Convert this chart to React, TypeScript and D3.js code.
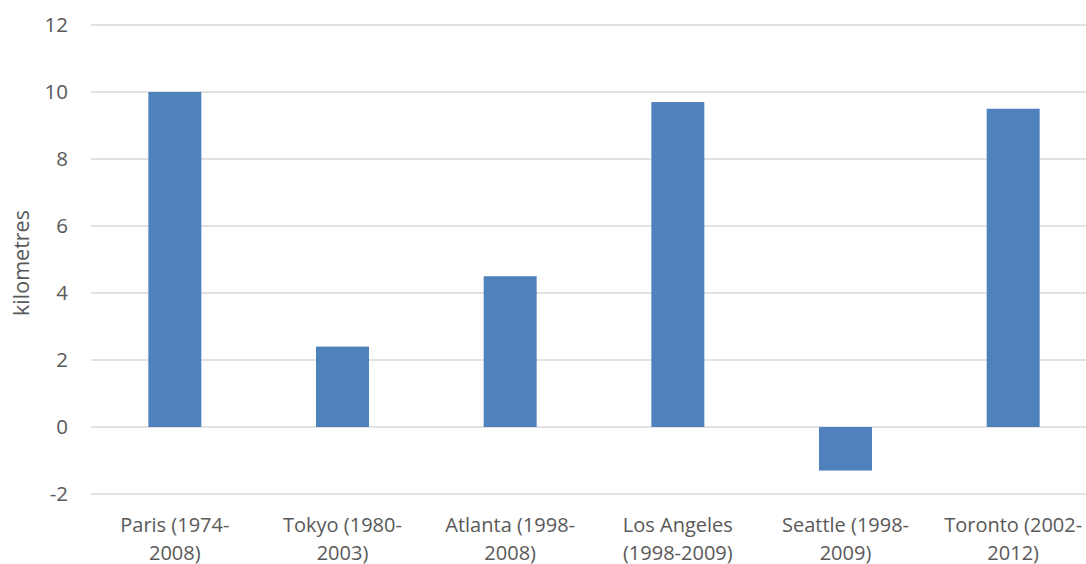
import React from "react";
import * as d3 from "d3";

const categories = ["Paris (1974-2008)", "Tokyo (1980-2003)", "Atlanta (1998-2008)", "Los Angeles (1998-2009)", "Seattle (1998-2009)", "Toronto (2002-2012)"];
const labelLines = [
  ["Paris (1974-", "2008)"],
  ["Tokyo (1980-", "2003)"],
  ["Atlanta (1998-", "2008)"],
  ["Los Angeles", "(1998-2009)"],
  ["Seattle (1998-", "2009)"],
  ["Toronto (2002-", "2012)"],
];
const values = [10, 2.4, 4.5, 9.7, -1.3, 9.5];
const yTicks = [-2, 0, 2, 4, 6, 8, 10, 12];
const yTitle = "kilometres";

const W = 1086;
const H = 564;
const FONT = "'Open Sans', 'Noto Sans', sans-serif";
const TEXT = "#595959";

export default function App() {
  const x = d3.scaleBand<string>().domain(categories).range([91, 1097]).paddingInner(0.684).paddingOuter(0.342);
  const y = d3.scaleLinear().domain([-2, 12]).range([494, 25]);

  return (
    <div style={{ position: "absolute", left: 0, top: 0 }}>
      <svg width={W} height={H} style={{ display: "block", background: "#fff" }}>
        {yTicks.map((t) => (
          <g key={t}>
            <line x1={91} x2={W} y1={y(t)} y2={y(t)} stroke="#D9D9D9" strokeWidth={1.5} />
            <text x={68} y={y(t)} dy="0.35em" textAnchor="end" fontFamily={FONT} fontSize={20.5} fill={TEXT}>
              {String(t)}
            </text>
          </g>
        ))}
        {categories.map((c, i) => {
          const v = values[i];
          const y0 = y(0);
          const yv = y(v);
          return (
            <rect key={c} x={x(c)!} width={x.bandwidth()} y={Math.min(y0, yv)} height={Math.abs(yv - y0)} fill="#4F81BD" />
          );
        })}
        {categories.map((c, i) => {
          const cx = x(c)! + x.bandwidth() / 2;
          return (
            <text key={c} textAnchor="middle" fontFamily={FONT} fontSize={20} fill={TEXT}>
              {labelLines[i].map((l, j) => (
                <tspan key={j} x={cx} y={532 + j * 28}>
                  {l}
                </tspan>
              ))}
            </text>
          );
        })}
        <text
          transform={`translate(29,263) rotate(-90)`}
          textAnchor="middle"
          fontFamily={FONT}
          fontSize={21.5}
          fill={TEXT}
        >
          {yTitle}
        </text>
      </svg>
    </div>
  );
}
